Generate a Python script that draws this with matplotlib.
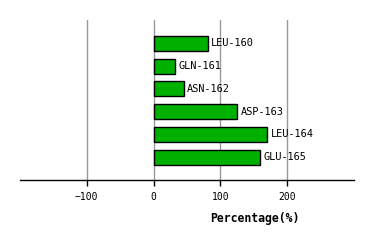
import matplotlib
matplotlib.use('Agg')
from matplotlib import pyplot as plt

residuos = ['LEU-160', 'GLN-161', 'ASN-162', 'ASP-163', 'LEU-164', 'GLU-165']
porcentaje = [81, 32, 45, 125, 170, 159]
ticks = [-100, 0, 100, 200]

fig = plt.figure(figsize=(3.74, 2.4), dpi=100)
ax = fig.add_axes([20/374, 1 - 180/240, 334/374, 160/240])

pos = list(range(len(residuos)))
ax.barh(pos, porcentaje, height=0.66, color='#00b000', edgecolor='black', linewidth=1, zorder=3)
for p, v, r in zip(pos, porcentaje, residuos):
    ax.text(v + 5, p, r, va='center', ha='left', fontsize=7.4, family='DejaVu Sans Mono', zorder=4)

ax.set_xlim(-200, 300)
ax.set_ylim(6.0, -1.03)
for t in ticks:
    ax.axvline(t, color='#999999', linewidth=1, zorder=1)

ax.set_xticks(ticks)
ax.set_xticklabels([str(t).replace('-', '\u2212') for t in ticks], fontsize=7, family='DejaVu Sans Mono')
ax.tick_params(axis='x', length=4, width=1, pad=5)
ax.set_yticks([])
for s in ['left', 'right', 'top']:
    ax.spines[s].set_visible(False)
ax.spines['bottom'].set_linewidth(1)

ax.set_xlabel('Percentage(%)', fontsize=8.3, family='DejaVu Sans Mono', fontweight='bold')
ax.xaxis.set_label_coords((255 - 20)/334, -0.2)

fig.savefig('out.png', dpi=100)
